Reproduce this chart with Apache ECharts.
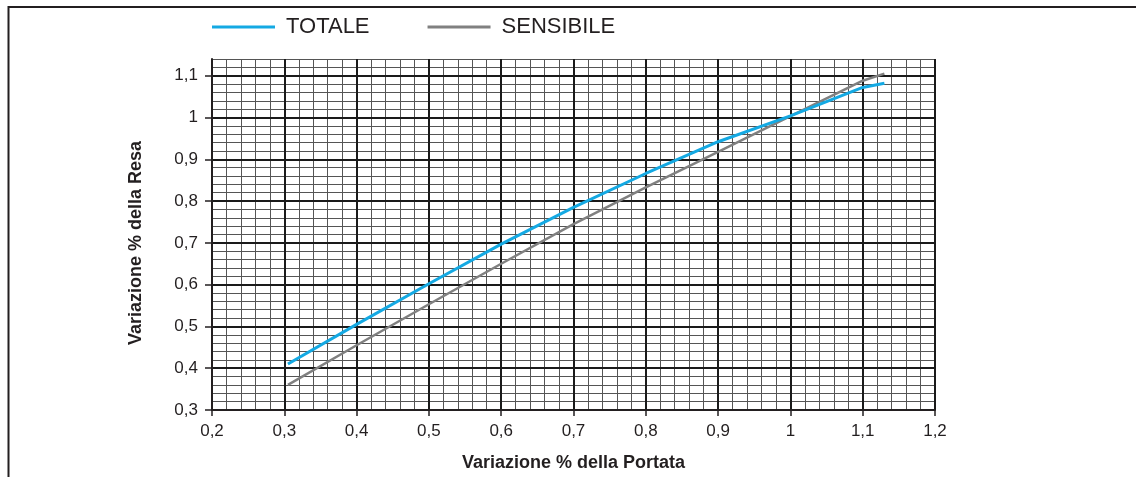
<!DOCTYPE html>
<html>
<head>
<meta charset="utf-8">
<script src="https://cdn.jsdelivr.net/npm/echarts@6/dist/echarts.min.js"></script>
<style>
html,body{margin:0;padding:0;background:#fff;}
#c{width:1136px;height:477px;}
</style>
</head>
<body>
<div id="c"></div>
<script>
// Data
var xPortata   = [0.305, 0.4, 0.5, 0.6, 0.7, 0.8, 0.9, 1.0, 1.1, 1.13];
var totale     = [0.41, 0.505, 0.602, 0.697, 0.785, 0.866, 0.942, 1.004, 1.072, 1.082];
var sensibile  = [0.36, 0.455, 0.553, 0.65, 0.745, 0.833, 0.918, 1.003, 1.088, 1.105];
var xTicks = [0.2, 0.3, 0.4, 0.5, 0.6, 0.7, 0.8, 0.9, 1.0, 1.1, 1.2];
var yTicks = [0.3, 0.4, 0.5, 0.6, 0.7, 0.8, 0.9, 1.0, 1.1];
var seriesNames = ['TOTALE', 'SENSIBILE'];
var xName = 'Variazione % della Portata';
var yName = 'Variazione % della Resa';

function pairs(xs, ys) { return xs.map(function (x, i) { return [x, ys[i]]; }); }
function fmt(v) { return String(+(+v).toFixed(2)).replace('.', ','); }

var FONT = 'Liberation Sans, Arial, Helvetica, sans-serif';
var chart = echarts.init(document.getElementById('c'), null, {renderer: 'canvas'});
chart.setOption({
  animation: false,
  backgroundColor: '#fff',
  textStyle: {fontFamily: FONT},
  graphic: [{
    type: 'polyline',
    shape: {points: [[8.5, 477], [8.5, 7], [1136, 7]]},
    style: {stroke: '#231f20', lineWidth: 2, fill: null},
    silent: true
  }],
  legend: {
    data: seriesNames,
    left: 207,
    top: 11,
    icon: 'rect',
    itemWidth: 63,
    itemHeight: 3,
    itemGap: 58,
    textStyle: {fontSize: 22, color: '#231f20', fontFamily: FONT, padding: [0, 0, 0, 6]}
  },
  grid: {left: 212, right: 201, top: 59, bottom: 67, containLabel: false},
  xAxis: [{
    type: 'value', position: 'bottom', min: 0.2, max: 1.2, interval: 0.02, z: 0,
    axisLine: {show: false}, axisTick: {show: false}, axisLabel: {show: false},
    splitLine: {show: true, lineStyle: {color: '#555', width: 1}}
  }, {
    type: 'value', position: 'bottom', min: 0.2, max: 1.2, interval: 0.1, z: 1,
    name: xName, nameLocation: 'middle', nameGap: 44,
    nameTextStyle: {fontSize: 18, fontWeight: 'bold', color: '#231f20', fontFamily: FONT},
    axisLine: {show: true, onZero: false, lineStyle: {color: '#231f20', width: 2}},
    axisTick: {show: true, length: 6, lineStyle: {color: '#231f20', width: 1.5}, customValues: xTicks},
    axisLabel: {fontSize: 17, color: '#231f20', margin: 13, formatter: fmt, customValues: xTicks},
    splitLine: {show: true, lineStyle: {color: '#1a1a1a', width: 2}}
  }],
  yAxis: [{
    type: 'value', position: 'left', min: 0.3, max: 1.14, interval: 0.02, z: 0,
    axisLine: {show: false}, axisTick: {show: false}, axisLabel: {show: false},
    splitLine: {show: true, lineStyle: {color: '#555', width: 1}}
  }, {
    type: 'value', position: 'left', min: 0.3, max: 1.14, interval: 0.1, z: 1,
    name: yName, nameLocation: 'middle', nameGap: 67, nameRotate: 90,
    nameTextStyle: {fontSize: 18, fontWeight: 'bold', color: '#231f20', fontFamily: FONT, padding: [0, 17, 0, 0]},
    axisLine: {show: true, onZero: false, lineStyle: {color: '#231f20', width: 2}},
    axisTick: {show: true, length: 7, lineStyle: {color: '#231f20', width: 1.5}, customValues: yTicks},
    axisLabel: {fontSize: 17, color: '#231f20', margin: 14, formatter: fmt, customValues: yTicks},
    splitLine: {show: true, lineStyle: {color: '#1a1a1a', width: 2}}
  }],
  series: [{
    name: seriesNames[0], type: 'line', xAxisIndex: 1, yAxisIndex: 1,
    data: pairs(xPortata, totale), showSymbol: false, symbol: 'none',
    smooth: false, z: 5,
    lineStyle: {color: '#14a9e3', width: 3}, itemStyle: {color: '#14a9e3'}
  }, {
    name: seriesNames[1], type: 'line', xAxisIndex: 1, yAxisIndex: 1,
    data: pairs(xPortata, sensibile), showSymbol: false, symbol: 'none',
    smooth: false, z: 4,
    lineStyle: {color: '#808080', width: 2.5}, itemStyle: {color: '#808080'}
  }]
});
</script>
</body>
</html>
